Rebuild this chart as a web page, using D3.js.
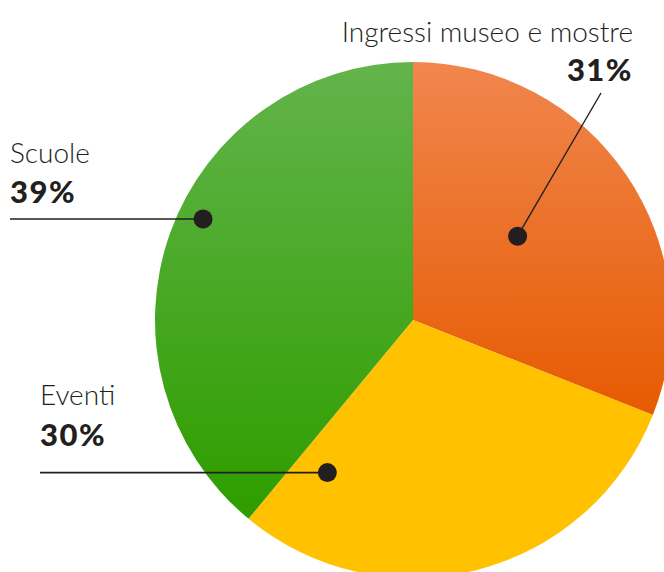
<!DOCTYPE html>
<html>
<head>
<meta charset="utf-8">
<script src="https://cdn.jsdelivr.net/npm/d3@7"></script>
<style>
  body { margin: 0; background: #fff; }
  svg { display: block; }
</style>
</head>
<body>
<div id="chart"></div>
<script>
// data
const categories = ["Ingressi museo e mostre", "Eventi", "Scuole"];
const values = [31, 30, 39];
const percentLabels = ["31%", "30%", "39%"];

// layout of the pie and of the labels
const width = 664, height = 572;
const cx = 413, cy = 320, radius = 258;

const svg = d3.select("#chart")
    .append("svg")
    .attr("width", width)
    .attr("height", height);

// gradients (vertical)
const defs = svg.append("defs");
const grads = [
    { id: "gOrange", top: "#f1864e", bottom: "#e65a00", y1: 62, y2: 420 },
    { id: "gYellow", top: "#ffc100", bottom: "#ffc100", y1: 62, y2: 578 },
    { id: "gGreen", top: "#63b44c", bottom: "#309e00", y1: 62, y2: 500 }
];
grads.forEach(g => {
    const lg = defs.append("linearGradient")
        .attr("id", g.id)
        .attr("gradientUnits", "userSpaceOnUse")
        .attr("x1", 0).attr("x2", 0)
        .attr("y1", g.y1 - cy).attr("y2", g.y2 - cy);
    lg.append("stop").attr("offset", "0%").attr("stop-color", g.top);
    lg.append("stop").attr("offset", "100%").attr("stop-color", g.bottom);
});

const pie = d3.pie().sort(null).value(d => d);
const arc = d3.arc().innerRadius(0).outerRadius(radius);
const arcs = pie(values);

const g = svg.append("g").attr("transform", `translate(${cx},${cy})`);
g.selectAll("path")
    .data(arcs)
    .enter()
    .append("path")
    .attr("d", arc)
    .attr("fill", (d, i) => `url(#${grads[i].id})`);

// label positions: dot at (angle in deg from top, distance from center)
const labelLayout = [
    { dotAngle: 51.3, dotR: 134, line: "diag", lineEnd: [601, 93], textX: 633, anchor: "end", nameY: 42, pctY: 81 },
    { dotAngle: 209.3, dotR: 175, line: "hor", lineStartX: 40, textX: 40, anchor: "start", nameY: 405, pctY: 446 },
    { dotAngle: 295.7, dotR: 233, line: "hor", lineStartX: 10, textX: 10, anchor: "start", nameY: 163, pctY: 203 }
];

const ink = "#231f20";
const labels = svg.append("g");
categories.forEach((cat, i) => {
    const L = labelLayout[i];
    const a = L.dotAngle * Math.PI / 180;
    const dx = cx + L.dotR * Math.sin(a);
    const dy = cy - L.dotR * Math.cos(a);

    if (L.line === "hor") {
        labels.append("line")
            .attr("x1", L.lineStartX).attr("x2", dx)
            .attr("y1", dy).attr("y2", dy)
            .attr("stroke", ink).attr("stroke-width", 1.6);
    } else {
        labels.append("line")
            .attr("x1", dx).attr("y1", dy)
            .attr("x2", L.lineEnd[0]).attr("y2", L.lineEnd[1])
            .attr("stroke", ink).attr("stroke-width", 1.4);
    }
    labels.append("circle")
        .attr("cx", dx).attr("cy", dy)
        .attr("r", 9.5)
        .attr("fill", ink);

    labels.append("text")
        .attr("x", L.textX).attr("y", L.nameY)
        .attr("text-anchor", L.anchor)
        .attr("font-family", "Lato, 'Noto Sans', sans-serif")
        .attr("font-weight", 300)
        .attr("font-size", 28)
        .attr("fill", ink)
        .text(cat);

    labels.append("text")
        .attr("x", L.textX).attr("y", L.pctY)
        .attr("text-anchor", L.anchor)
        .attr("font-family", "Lato, 'Noto Sans', sans-serif")
        .attr("font-weight", 900)
        .attr("font-size", 31)
        .attr("letter-spacing", 1.5)
        .attr("fill", ink)
        .text(percentLabels[i]);
});
</script>
</body>
</html>
